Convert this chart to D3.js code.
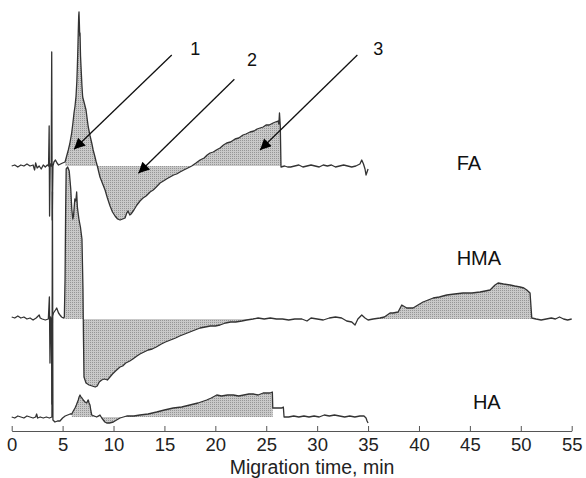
<!DOCTYPE html>
<html>
<head>
<meta charset="utf-8">
<script src="https://cdn.jsdelivr.net/npm/d3@7"></script>
<style>
  body { margin: 0; background: #fff; }
  svg { display: block; }
  text { font-family: "Liberation Sans", Arial, sans-serif; }
</style>
</head>
<body>
<svg id="chart" width="586" height="478"></svg>
<script>
// migration time (min) vs detector signal (arbitrary units, relative to each trace's baseline)
const xTicks = [0, 5, 10, 15, 20, 25, 30, 35, 40, 45, 50, 55];

const faData = [
  [0,0],[0.3,1],[0.6,-1],[0.9,1],[1.2,0],[1.5,2],[1.8,0],[2.1,1],[2.25,-4],[2.35,3],[2.5,-2],[2.7,0],
  [2.9,-3],[3.1,1],[3.3,-1],[3.5,1],[3.62,0],[3.68,40],[3.72,-50],[3.78,2],[3.88,0],[3.93,114],[3.98,-54],
  [4.05,0],[4.15,4],[4.3,6],[4.45,3],[4.6,1],[4.8,2],[5.0,3],[5.24,4],[5.4,10],[5.56,16],[5.7,22],[5.89,33],
  [6.0,42],[6.12,53],[6.22,60],[6.32,70],[6.4,85],[6.45,100],[6.5,118],[6.54,135],[6.58,150],[6.61,154],
  [6.64,145],[6.68,130],[6.71,133],[6.76,110],[6.81,99],[6.9,80],[6.97,69],[7.1,64],[7.3,56],[7.4,48],
  [7.52,39],[7.7,30],[7.86,23],[8.0,16],[8.18,9],[8.3,4],[8.41,0],[8.55,-6],[8.67,-11],[8.9,-17],[9.17,-24],
  [9.4,-32],[9.66,-40],[9.9,-46],[10.15,-50],[10.4,-53],[10.64,-54],[10.9,-53],[11.13,-52],[11.3,-47],
  [11.42,-45],[11.6,-49],[11.72,-48],[12.0,-44],[12.3,-39],[12.6,-35],[12.9,-32],[13.2,-30],[13.59,-26],
  [13.9,-24],[14.2,-21],[14.57,-17],[14.9,-15],[15.2,-13],[15.55,-11],[15.9,-9],[16.2,-8],[16.53,-6],
  [16.9,-4],[17.3,-2],[17.68,0],[18.1,3],[18.5,6],[18.9,8],[19.2,11],[19.48,13],[19.8,14],[20.1,16],
  [20.46,18],[20.8,21],[21.12,23],[21.5,24],[21.94,27],[22.3,28],[22.72,31],[23.0,32],[23.41,34],[23.8,35],
  [24.1,37],[24.39,38],[24.7,39],[24.98,41],[25.3,41],[25.67,43],[25.9,44],[26.16,45],[26.24,42],[26.3,53],
  [26.38,40],[26.45,-1],[26.8,0],[27.1,-1],[27.4,-1],[27.8,0],[28.2,1],[28.6,-1],[29.0,0],[29.4,1],[29.8,0],
  [30.2,-1],[30.6,1],[31.0,0],[31.4,1],[31.8,-1],[32.2,0],[32.6,1],[33.0,0],[33.4,-1],[33.8,0],[34.2,2],
  [34.38,6],[34.55,2],[34.7,-3],[34.8,-9],[34.9,-6],[35.0,-3]
];

const hmaData = [
  [0,2],[0.3,1],[0.6,3],[0.9,1],[1.2,2],[1.5,0],[1.8,1],[2.1,-1],[2.4,1],[2.7,4],[2.8,1],[3.0,0],[3.3,-1],
  [3.6,0],[3.7,22],[3.76,-44],[3.82,2],[3.9,0],[3.95,-85],[4.0,3],[4.1,6],[4.3,9],[4.42,11],[4.6,6],[4.74,4],
  [4.9,2],[5.07,1],[5.17,2],[5.24,40],[5.3,110],[5.35,150],[5.5,152],[5.65,148],[5.8,130],[5.9,110],[6.0,100],
  [6.08,104],[6.2,120],[6.3,118],[6.38,127],[6.45,112],[6.6,100],[6.75,92],[6.9,80],[7.0,30],[7.05,-20],
  [7.1,-58],[7.3,-64],[7.6,-66],[7.9,-67],[8.2,-68],[8.4,-67],[8.6,-63],[8.84,-61],[9.1,-60],[9.4,-61],
  [9.65,-58],[9.9,-55],[10.2,-52],[10.64,-48],[10.9,-47],[11.2,-44],[11.6,-42],[11.9,-40],[12.3,-37],
  [12.6,-35],[13.0,-33],[13.4,-31],[13.8,-30],[14.2,-28],[14.7,-25],[15.1,-23],[15.6,-21],[16.1,-19],
  [16.5,-17],[17.0,-15],[17.5,-13],[18.0,-11],[18.5,-9],[19.0,-8],[19.5,-7],[20.0,-7],[20.46,-6],[21.0,-4],
  [21.5,-3],[22.0,-3],[22.6,-2],[23.08,-1],[23.7,0],[24.2,1],[24.8,0],[25.4,1],[26.0,0],[26.6,0],[27.2,-1],
  [27.8,0],[28.5,0],[29.0,-2],[29.4,1],[30.0,0],[30.6,-1],[31.2,1],[31.8,2],[32.4,1],[32.9,-2],[33.4,-3],
  [33.72,-6],[34.0,0],[34.38,4],[34.7,1],[35.0,-1],[35.5,0],[36.17,1],[36.6,2],[37.16,6],[37.45,6],[37.95,7],
  [38.31,14],[38.8,11],[39.42,11],[39.9,14],[40.4,17],[40.9,19],[41.4,21],[42.0,22],[42.73,24],[43.5,25],
  [44.33,26],[45.2,26],[46.0,27],[46.5,28],[46.98,29],[47.47,34],[47.77,36],[48.3,35],[48.95,34],[49.4,33],
  [49.93,32],[50.3,31],[50.59,29],[50.91,26],[51.08,1],[51.5,0],[52.0,-1],[52.5,0],[53.0,1],[53.4,0],
  [53.8,2],[54.2,0],[54.6,-1],[55.0,0]
];

const haData = [
  [0,0],[0.3,-1],[0.6,1],[0.9,0],[1.2,-1],[1.5,1],[1.8,0],[2.1,-1],[2.35,0],[2.45,3],[2.55,-1],[2.8,0],
  [3.1,-1],[3.4,0],[3.7,-1],[3.95,0],[4.0,225],[4.05,-3],[4.25,-5],[4.5,-4],[4.74,-4],[5.0,-1],[5.25,1],
  [5.5,2],[5.74,3],[5.9,3],[6.05,6],[6.22,9],[6.35,12],[6.54,17],[6.62,20],[6.71,22],[6.8,20],[6.9,19],
  [7.03,17],[7.2,15],[7.37,14],[7.45,16],[7.52,17],[7.6,14],[7.69,12],[7.78,6],[7.86,2],[8.1,1],[8.35,0],
  [8.5,1],[8.67,2],[8.85,-1],[9.0,-3],[9.15,-5],[9.33,-6],[9.6,-6],[9.98,-5],[10.3,-3],[10.64,-1],[11.3,1],
  [12.0,1],[12.6,2],[13.4,3],[14.24,5],[15.0,7],[15.87,9],[16.7,10],[17.5,12],[18.3,14],[19.15,17],[19.6,19],
  [20.14,22],[20.6,21],[21.2,22],[21.77,22],[22.3,21],[22.8,22],[23.3,23],[23.73,23],[24.2,22],[24.7,24],
  [25.37,24],[25.6,25],[25.64,9],[26.0,9],[26.4,9],[26.52,9],[26.68,10],[26.75,0],[27.2,0],[27.7,1],[28.2,0],
  [28.7,1],[29.2,0],[29.7,1],[30.2,0],[30.7,2],[31.2,1],[31.7,2],[32.2,1],[32.7,0],[33.2,1],[33.7,0],
  [34.2,1],[34.6,1],[34.8,-1],[34.9,-4],[35.0,-6]
];

// vertical offset of each trace baseline, in signal units
const traceNames = ["FA", "HMA", "HA"];
const traceOffsets = [265, 112, 14];
// shaded (integrated) time windows per trace
const faShade = [[5.24, 26.45]];
const hmaShade = [[5.17, 23.7], [36.17, 51.08]];
const haShade = [[5.9, 25.64]];
// trace label anchors [time, signal]
const traceLabelPos = [[43.7, 261], [43.7, 166], [45.3, 22]];

// numbered arrows: tail and tip in [time, signal]
const arrowLabels = ["1", "2", "3"];
const arrowTails = [[15.72, 376], [21.87, 351.7], [33.95, 376]];
const arrowTips = [[6.12, 281.7], [12.44, 257.7], [24.39, 281]];
const arrowLabelPos = [[17.53, 376], [23.1, 365], [35.5, 376]];

const svg = d3.select("#chart");
const xScale = d3.scaleLinear().domain([0, 55]).range([11.7, 571.7]);
const yScale = d3.scaleLinear().domain([0, 431]).range([431, 0]);

// stipple fill like the scanned halftone
const defs = svg.append("defs");
const pat = defs.append("pattern").attr("id", "stipple").attr("width", 2).attr("height", 2)
  .attr("patternUnits", "userSpaceOnUse");
pat.append("rect").attr("width", 2).attr("height", 2).attr("fill", "#c9c9c9");
pat.append("rect").attr("width", 1).attr("height", 1).attr("fill", "#969696");

defs.append("marker").attr("id", "arrowhead")
  .attr("viewBox", "0 0 10 10").attr("refX", 10).attr("refY", 5)
  .attr("markerWidth", 14).attr("markerHeight", 11).attr("markerUnits", "userSpaceOnUse")
  .attr("orient", "auto")
  .append("path").attr("d", "M0,0 L10,5 L0,10 z").attr("fill", "#000");

const traces = [faData, hmaData, haData].map((data, i) => ({
  name: traceNames[i], data, offset: traceOffsets[i], shade: [faShade, hmaShade, haShade][i], labelPos: traceLabelPos[i]
}));

const gAreas = svg.append("g");
const gLines = svg.append("g");

traces.forEach((tr) => {
  const area = d3.area()
    .x((d) => xScale(d[0]))
    .y0(yScale(tr.offset))
    .y1((d) => yScale(tr.offset + d[1]));
  tr.shade.forEach((win) => {
    const inWin = tr.data.filter((d) => d[0] >= win[0] && d[0] <= win[1]);
    gAreas.append("path").attr("d", area(inWin)).attr("fill", "url(#stipple)");
  });

  const line = d3.line()
    .x((d) => xScale(d[0]))
    .y((d) => yScale(tr.offset + d[1]));
  gLines.append("path").attr("d", line(tr.data))
    .attr("fill", "none").attr("stroke", "#333").attr("stroke-width", 1.3)
    .attr("stroke-linejoin", "round");

  svg.append("text")
    .attr("x", xScale(tr.labelPos[0])).attr("y", yScale(tr.labelPos[1]))
    .attr("font-size", 20).attr("fill", "#111").text(tr.name);
});

// arrows
arrowLabels.forEach((lab, i) => {
  svg.append("line")
    .attr("x1", xScale(arrowTails[i][0])).attr("y1", yScale(arrowTails[i][1]))
    .attr("x2", xScale(arrowTips[i][0])).attr("y2", yScale(arrowTips[i][1]))
    .attr("stroke", "#111").attr("stroke-width", 1.3)
    .attr("marker-end", "url(#arrowhead)");
  svg.append("text")
    .attr("x", xScale(arrowLabelPos[i][0])).attr("y", yScale(arrowLabelPos[i][1]))
    .attr("font-size", 18).attr("fill", "#111").text(lab);
});

// x axis, ticks pointing up
const xAxis = d3.axisBottom(xScale).tickValues(xTicks).tickSizeInner(-5).tickSizeOuter(0).tickPadding(7);
const gx = svg.append("g").attr("transform", `translate(0,${yScale(0)})`).call(xAxis);
gx.select(".domain").attr("stroke", "#555");
gx.selectAll(".tick line").attr("stroke", "#555");
gx.selectAll(".tick text").attr("font-size", 18.5).attr("fill", "#222")
  .attr("font-family", "Liberation Sans, Arial, sans-serif");

svg.append("text")
  .attr("x", 312).attr("y", 473.8).attr("text-anchor", "middle")
  .attr("font-size", 19.5).attr("fill", "#222")
  .text("Migration time, min");
</script>
</body>
</html>
